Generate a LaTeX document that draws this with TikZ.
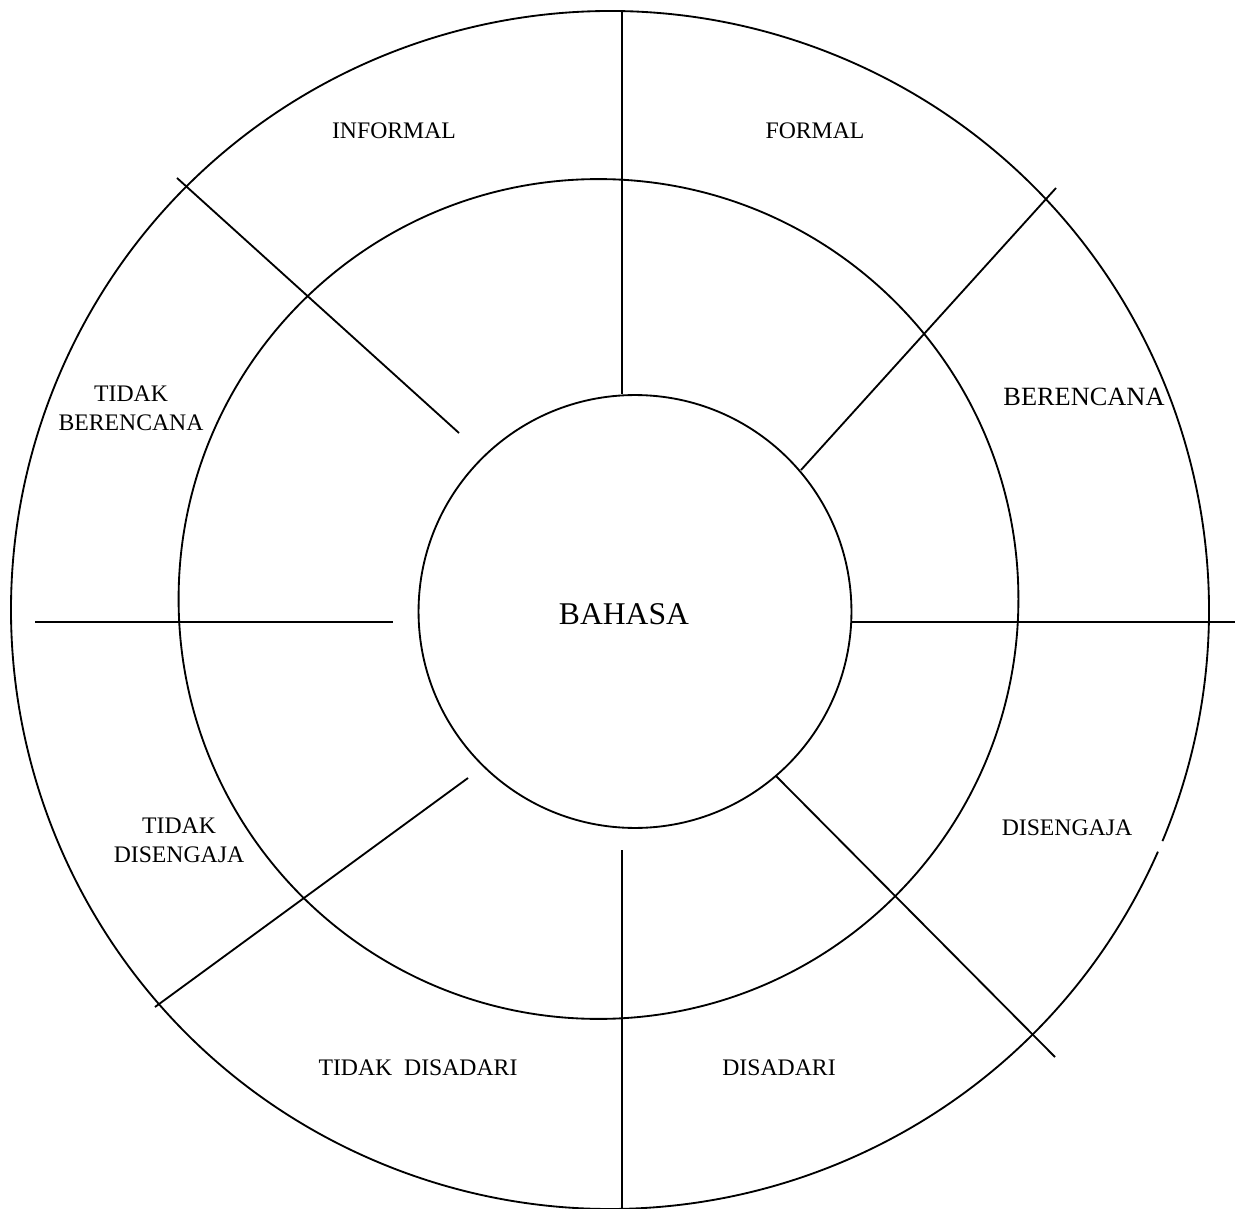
\documentclass[tikz,border=0pt]{standalone}
\usepackage{fontspec}
\setmainfont{Liberation Serif}
\begin{document}
\begin{tikzpicture}[x=0.02cm,y=-0.02cm,line width=1.05pt,
			every node/.style={align=center,inner sep=0,font=\fontsize{13.5}{16.4}\selectfont}]
			\useasboundingbox (0,0) rectangle (1241,1209);
			% rings
			\coordinate (co) at (610,610);
			\coordinate (cm) at (598.5,599);
			\coordinate (ci) at (635,611.5);
			\draw (co) ++(-22.7:11.98cm) arc[start angle=-22.7,end angle=336.2,radius=11.98cm];
			\draw (cm) circle[radius=8.4cm];
			\draw (ci) circle[radius=4.33cm];
			% dividers
			\coordinate (n1) at (622,11);   \coordinate (n2) at (622,394);
			\coordinate (s1) at (622,850);  \coordinate (s2) at (622,1208);
			\coordinate (w1) at (35,622);   \coordinate (w2) at (393,622);
			\coordinate (e1) at (852,622);  \coordinate (e2) at (1235,622);
			\coordinate (nw1) at (177,178); \coordinate (nw2) at (459,433);
			\coordinate (ne1) at (801,470); \coordinate (ne2) at (1056,188);
			\coordinate (sw1) at (155,1007);\coordinate (sw2) at (468,778);
			\coordinate (se1) at (776,776); \coordinate (se2) at (1055,1057);
			\draw (n1) -- (n2);
			\draw (s1) -- (s2);
			\draw (w1) -- (w2);
			\draw (e1) -- (e2);
			\draw (nw1) -- (nw2);
			\draw (ne1) -- (ne2);
			\draw (sw1) -- (sw2);
			\draw (se1) -- (se2);
			% labels
			\node[font=\fontsize{18}{22}\selectfont] (bahasa) at (624,614) {BAHASA};
			\node (informal) at (394,131) {INFORMAL};
			\node (formal) at (815,131) {FORMAL};
			\node[font=\fontsize{15}{18}\selectfont] (berencana) at (1084,397) {BERENCANA};
			\node (tberencana) at (131,408) {TIDAK\\BERENCANA};
			\node (disengaja) at (1067,828) {DISENGAJA};
			\node (tdisengaja) at (179,840) {TIDAK\\DISENGAJA};
			\node (tdisadari) at (418,1068) {TIDAK\ \ DISADARI};
			\node (disadari) at (779,1068) {DISADARI};
		\end{tikzpicture}
\end{document}
